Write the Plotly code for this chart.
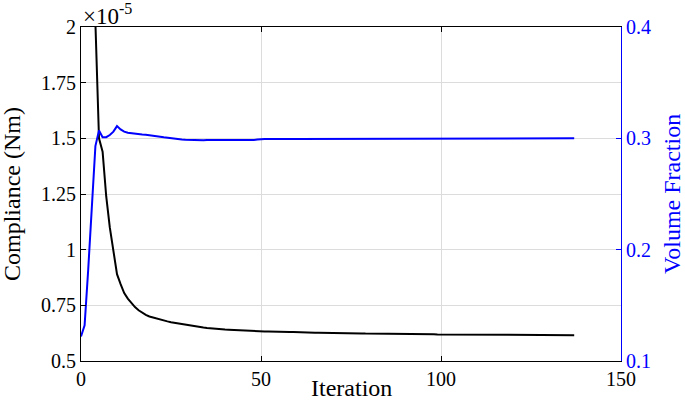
import plotly.graph_objects as go

iterations = list(range(0, 138))

# Compliance in units of 1e-5 Nm
compliance = [
    6.2, 4.6, 3.4, 2.55, 2.02, 1.50, 1.44, 1.24, 1.10, 0.99,
    0.89, 0.845, 0.805, 0.78, 0.76, 0.742, 0.728, 0.716, 0.707, 0.700,
    0.695, 0.690, 0.686, 0.682, 0.678, 0.674, 0.671, 0.668, 0.665, 0.662,
    0.659, 0.656, 0.654, 0.652, 0.650, 0.648, 0.646, 0.645, 0.643, 0.642,
    0.641, 0.640, 0.639, 0.638, 0.637, 0.636, 0.636, 0.635, 0.635, 0.634,
    0.634, 0.633, 0.633, 0.632, 0.632, 0.631, 0.631, 0.630, 0.630, 0.630,
    0.629, 0.629, 0.628, 0.628, 0.628, 0.627, 0.627, 0.627, 0.626, 0.626,
    0.626, 0.625, 0.625, 0.625, 0.625, 0.624, 0.624, 0.624, 0.624, 0.623,
    0.623, 0.623, 0.623, 0.622, 0.622, 0.622, 0.622, 0.622, 0.621, 0.621,
    0.621, 0.621, 0.621, 0.620, 0.620, 0.620, 0.620, 0.620, 0.620, 0.619,
    0.619, 0.619, 0.619, 0.619, 0.619, 0.619, 0.618, 0.618, 0.618, 0.618,
    0.618, 0.618, 0.618, 0.618, 0.617, 0.617, 0.617, 0.617, 0.617, 0.617,
    0.617, 0.617, 0.617, 0.617, 0.616, 0.616, 0.616, 0.616, 0.616, 0.616,
    0.616, 0.616, 0.616, 0.616, 0.616, 0.616, 0.616, 0.616,
]

volume_fraction = [
    0.122, 0.132, 0.182, 0.237, 0.293, 0.307, 0.301, 0.301, 0.303, 0.306,
    0.311, 0.308, 0.306, 0.305, 0.3045, 0.304, 0.304, 0.3035, 0.3033, 0.303,
    0.3025, 0.302, 0.3015, 0.301, 0.3005, 0.300, 0.2997, 0.2993, 0.299, 0.2987,
    0.2985, 0.2983, 0.2982, 0.2982, 0.2983, 0.2984, 0.2985, 0.2986, 0.2986, 0.2987,
    0.2987, 0.2988, 0.2987, 0.2986, 0.2985, 0.2984, 0.2982, 0.298, 0.2985, 0.299,
    0.2995, 0.2995, 0.2995, 0.2994, 0.2994, 0.2994, 0.2994, 0.2994, 0.2994, 0.2994,
    0.2995, 0.2995, 0.2995, 0.2995, 0.2995, 0.2995, 0.2996, 0.2996, 0.2996, 0.2996,
    0.2996, 0.2996, 0.2996, 0.2997, 0.2997, 0.2997, 0.2997, 0.2997, 0.2997, 0.2997,
    0.2997, 0.2998, 0.2998, 0.2998, 0.2998, 0.2998, 0.2998, 0.2998, 0.2998, 0.2998,
    0.2998, 0.2999, 0.2999, 0.2999, 0.2999, 0.2999, 0.2999, 0.2999, 0.2999, 0.2999,
    0.2999, 0.2999, 0.2999, 0.2999, 0.3, 0.3, 0.3, 0.3, 0.3, 0.3,
    0.3, 0.3, 0.3, 0.3, 0.3, 0.3, 0.3, 0.3, 0.3, 0.3,
    0.3, 0.3, 0.3, 0.3, 0.3, 0.3, 0.3, 0.3, 0.3, 0.3,
    0.3, 0.3, 0.3, 0.3, 0.3, 0.3, 0.3, 0.3,
]

x_ticks = [0, 50, 100, 150]
left_ticks = [0.5, 0.75, 1.0, 1.25, 1.5, 1.75, 2.0]
left_labels = ["0.5", "0.75", "1", "1.25", "1.5", "1.75", "2"]
right_ticks = [0.1, 0.2, 0.3, 0.4]
right_labels = ["0.1", "0.2", "0.3", "0.4"]

FONT = "Liberation Serif"
BLUE = "#0000ff"
TICK_SIZE = 20
TITLE_SIZE = 24

fig = go.Figure()
fig.add_trace(go.Scatter(x=iterations, y=compliance, mode="lines",
                         line=dict(color="black", width=2), yaxis="y",
                         showlegend=False, hoverinfo="skip"))
fig.add_trace(go.Scatter(x=iterations, y=volume_fraction, mode="lines",
                         line=dict(color=BLUE, width=2), yaxis="y2",
                         showlegend=False, hoverinfo="skip"))

fig.update_layout(
    width=685, height=402,
    margin=dict(l=81, r=64, t=27, b=41),
    paper_bgcolor="white", plot_bgcolor="white",
    font=dict(family=FONT, size=TICK_SIZE, color="black"),
    xaxis=dict(
        range=[0, 150], tickvals=x_ticks, ticktext=[str(v) for v in x_ticks],
        ticks="inside", ticklen=5, tickcolor="black",
        showline=True, linecolor="black", linewidth=1, mirror="ticks",
        showgrid=True, gridcolor="#dcdcdc", gridwidth=1, zeroline=False,
        automargin=False, tickfont=dict(size=TICK_SIZE),
    ),
    yaxis=dict(
        range=[0.5, 2.0], tickvals=left_ticks, ticktext=left_labels,
        ticks="inside", ticklen=5, tickcolor="black",
        showline=True, linecolor="black", linewidth=1,
        showgrid=True, gridcolor="#dcdcdc", gridwidth=1, zeroline=False,
        automargin=False, tickfont=dict(size=TICK_SIZE),
    ),
    yaxis2=dict(
        range=[0.1, 0.4], tickvals=right_ticks, ticktext=right_labels,
        overlaying="y", side="right",
        ticks="inside", ticklen=5, tickcolor=BLUE,
        showline=True, linecolor=BLUE, linewidth=1,
        showgrid=False, zeroline=False, automargin=False,
        tickfont=dict(size=TICK_SIZE, color=BLUE),
    ),
    annotations=[
        dict(text="×10<sup>-5</sup>", xref="paper", yref="paper",
             x=0.0, y=1.0, xanchor="left", yanchor="bottom", showarrow=False,
             font=dict(family=FONT, size=23, color="black"), yshift=-4),
        dict(text="Iteration", xref="paper", yref="paper",
             x=0.5, y=0.0, xanchor="center", yanchor="middle", showarrow=False,
             yshift=-27, font=dict(family=FONT, size=TITLE_SIZE, color="black")),
        dict(text="Compliance (Nm)", xref="paper", yref="paper",
             x=0.0, y=0.5, xanchor="center", yanchor="middle", showarrow=False,
             xshift=-69, textangle=-90,
             font=dict(family=FONT, size=TITLE_SIZE, color="black")),
        dict(text="Volume Fraction", xref="paper", yref="paper",
             x=1.0, y=0.5, xanchor="center", yanchor="middle", showarrow=False,
             xshift=51, textangle=-90,
             font=dict(family=FONT, size=TITLE_SIZE, color=BLUE)),
    ],
)

# remove the default 8px page margin so the figure fills the window exactly
fig.write_html(
    "out.html",
    config={"displayModeBar": False},
    post_script="document.body.style.margin='0';document.body.style.overflow='hidden';",
)
